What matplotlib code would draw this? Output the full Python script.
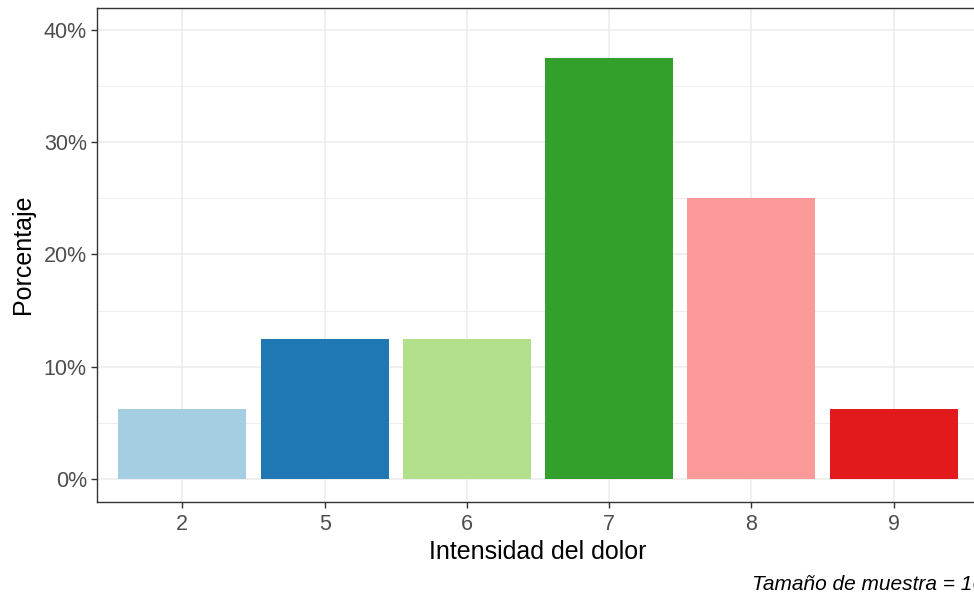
import matplotlib
matplotlib.use('Agg')
from matplotlib import pyplot as plt
from matplotlib.ticker import FuncFormatter, MultipleLocator

# data
categorias = ['2', '5', '6', '7', '8', '9']
porcentajes = [0.0625, 0.125, 0.125, 0.375, 0.25, 0.0625]
colores = ['#A6CEE3', '#1F78B4', '#B2DF8A', '#33A02C', '#FB9A99', '#E31A1C']
n_muestra = 16

plt.rcParams['font.family'] = ['Liberation Sans', 'DejaVu Sans']

W, H = 974, 598
fig = plt.figure(figsize=(W / 100, H / 100), dpi=100)
left, right, top, bottom = 97, 979, 7.5, 501.5
ax = fig.add_axes([left / W, 1 - bottom / H, (right - left) / W, (bottom - top) / H])

x = list(range(1, len(categorias) + 1))
ax.bar(x, porcentajes, width=0.9, color=colores, zorder=3)

ax.set_xlim(0.4, len(categorias) + 0.6)
ax.set_ylim(-0.02, 0.42)
ax.set_xticks(x)
ax.set_xticklabels(categorias)
ax.yaxis.set_major_locator(MultipleLocator(0.1))
ax.yaxis.set_minor_locator(MultipleLocator(0.05))
ax.yaxis.set_major_formatter(FuncFormatter(lambda v, p: '{:.0f}%'.format(v * 100)))

ax.grid(which='major', color='#EBEBEB', linewidth=1.1, zorder=0)
ax.grid(which='minor', axis='y', color='#EBEBEB', linewidth=0.6, zorder=0)
ax.set_axisbelow(True)
for s in ax.spines.values():
    s.set_color('#333333')
    s.set_linewidth(1.0)

ax.tick_params(axis='both', which='major', colors='#333333', labelcolor='#4D4D4D',
               labelsize=15.5, length=4.3, width=1.0)
ax.tick_params(axis='x', pad=5)
ax.tick_params(axis='y', pad=3)
ax.tick_params(which='minor', length=0)

ax.set_xlabel('Intensidad del dolor', fontsize=18, labelpad=3)
ax.set_ylabel('Porcentaje', fontsize=18, labelpad=6)

fig.text(752 / W, 1 - 585 / H, 'Tamaño de muestra = {}'.format(n_muestra),
         fontsize=15, style='italic', ha='left', va='center')

fig.savefig('out.png', dpi=100)
